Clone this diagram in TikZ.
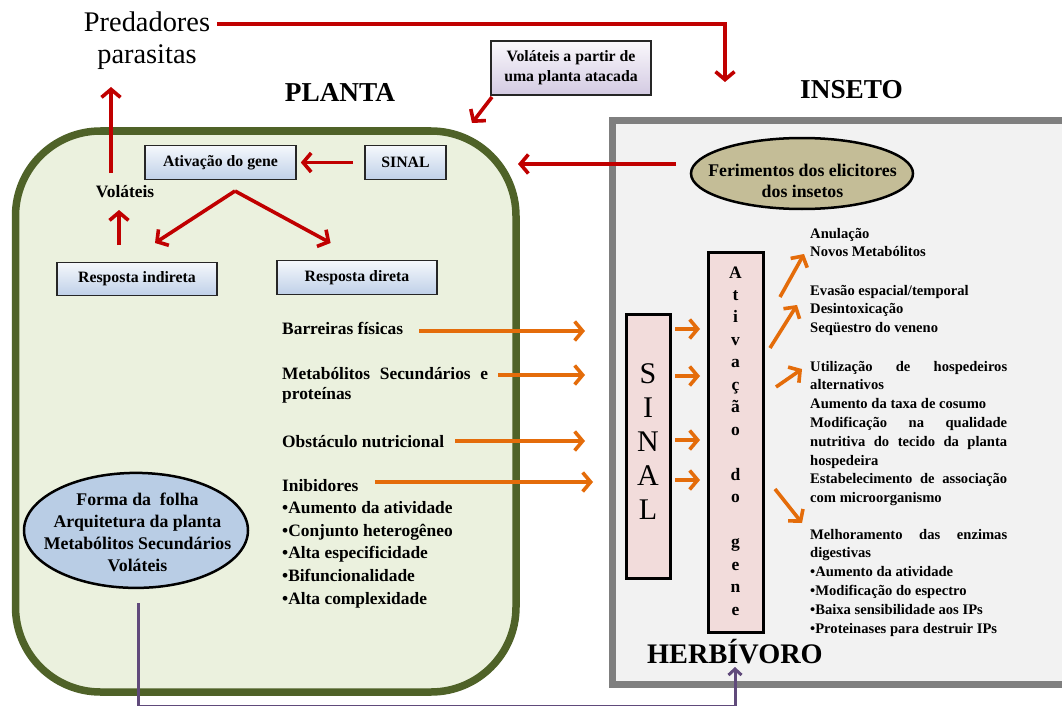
\documentclass[tikz,border=0pt]{standalone}
\usepackage{fontspec}
\setmainfont{Liberation Serif}
\usetikzlibrary{arrows.meta,shapes.geometric}
\definecolor{cred}{HTML}{C00000}
\definecolor{corange}{HTML}{E46C0A}
\definecolor{cgreen}{HTML}{4F6228}
\definecolor{cplant}{HTML}{EBF1DE}
\definecolor{cgray}{HTML}{7F7F7F}
\definecolor{cins}{HTML}{F2F2F2}
\definecolor{cpink}{HTML}{F2DCDB}
\definecolor{ctan}{HTML}{C4BD97}
\definecolor{cblue}{HTML}{B9CDE5}
\definecolor{cpurple}{HTML}{604A7B}
\definecolor{bevtop}{HTML}{F5F8FC}
\definecolor{bevbot}{HTML}{BFD0E8}
\definecolor{lavtop}{HTML}{FAF8FC}
\definecolor{lavbot}{HTML}{D3CAE2}
\newcommand\J[1]{\makebox[\linewidth][s]{#1}}
\tikzset{
  redarr/.style={draw=cred, line width=3.6pt, -{Straight Barb[length=8pt,width=19pt]}},
  orarr/.style={draw=corange, line width=3.6pt, -{Straight Barb[length=8pt,width=19pt]}},
  purarr/.style={draw=cpurple, line width=3pt, -{Straight Barb[length=6pt,width=13pt]}},
  bevelbox/.style={rectangle, draw=black!85, line width=1.6pt, top color=bevtop, bottom color=bevbot, inner sep=0pt, font=\fontsize{15.8}{19}\selectfont\bfseries},
  lavbox/.style={rectangle, draw=black!85, line width=1.6pt, top color=lavtop, bottom color=lavbot, inner sep=0pt, align=center, font=\fontsize{15.8}{20}\selectfont\bfseries},
  pinkbox/.style={rectangle, draw=black, line width=3pt, fill=cpink, inner sep=0pt},
  ttl/.style={anchor=base, inner sep=0pt, font=\fontsize{27.3}{30}\selectfont\bfseries},
  ltxt/.style={anchor=base west, inner sep=0pt, font=\fontsize{17.4}{22.6}\selectfont\bfseries},
  rtxt/.style={anchor=base west, inner sep=0pt, font=\fontsize{14.6}{18.8}\selectfont\bfseries},
}
\begin{document}
\begin{tikzpicture}[x=1pt,y=-1pt]
\useasboundingbox (0,0) rectangle (1062,706);
% containers
\node[rectangle, draw=cgray, fill=cins, line width=7pt, minimum width=470pt, minimum height=563pt, inner sep=0pt] (insbox) at (847,402.5) {};
\node[rectangle, draw=cgreen, fill=cplant, line width=7.5pt, rounded corners=85pt, minimum width=500.5pt, minimum height=561pt, inner sep=0pt] (plantbox) at (265.75,411.5) {};
% titles
\node[anchor=base, inner sep=0pt, font=\fontsize{28.4}{31.6}\selectfont] (pred) at (147,31.7) {\parbox[t]{160pt}{\centering Predadores\\parasitas}};
\node[ttl] (planta) at (340,102) {PLANTA};
\node[ttl] (inseto) at (851.5,99) {INSETO};
\node[anchor=base west, inner sep=0pt, font=\fontsize{28.3}{30}\selectfont\bfseries] (herb) at (647,663) {HERBÍVORO};
% boxes
\node[lavbox, minimum width=160pt, minimum height=54pt] (volbox) at (571,68) {Voláteis a partir de\\uma planta atacada};
\node[bevelbox, minimum width=151pt, minimum height=34pt] (genebox) at (220.5,162.5) {Ativação do gene};
\node[bevelbox, minimum width=81pt, minimum height=34pt] (sinalbox) at (405.5,162.5) {SINAL};
\node[bevelbox, minimum width=160pt, minimum height=33pt] (indir) at (137,279) {Resposta indireta};
\node[bevelbox, minimum width=160pt, minimum height=34pt] (direta) at (357,277.5) {Resposta direta};
\node[anchor=base, inner sep=0pt, font=\fontsize{17.4}{20}\selectfont\bfseries] (volat) at (125,197) {Voláteis};
% ellipses
\node[ellipse, draw=black, line width=2.5pt, fill=ctan, minimum width=222pt, minimum height=71pt, inner sep=0pt] (ferim) at (802,173.5) {};
\node[anchor=base, inner sep=0pt, font=\fontsize{17.8}{21}\selectfont\bfseries] (fertxt) at (802.5,176) {\parbox[t]{220pt}{\centering Ferimentos dos elicitores\\dos insetos}};
\node[ellipse, draw=black, line width=2.5pt, fill=cblue, minimum width=224pt, minimum height=115pt, inner sep=0pt] (forma) at (136,530.4) {};
\node[anchor=base, inner sep=0pt, font=\fontsize{17.8}{22.2}\selectfont\bfseries] (formatxt) at (137.5,505) {\parbox[t]{220pt}{\centering Forma da\ \ folha\\Arquitetura da planta\\Metabólitos Secundários\\Voláteis}};
% plant texts
\node[ltxt] (barr) at (282,334) {Barreiras físicas};
\node[ltxt, font=\fontsize{17.4}{20.3}\selectfont\bfseries] (meta) at (282,379) {\parbox[t]{206pt}{\J{Metabólitos Secundários e}\\proteínas}};
\node[ltxt] (obst) at (282,447) {Obstáculo nutricional};
\node[ltxt] (inib) at (282,491) {\parbox[t]{200pt}{Inibidores\\•Aumento da atividade\\•Conjunto heterogêneo\\•Alta especificidade\\•Bifuncionalidade\\•Alta complexidade}};
% insect tall boxes
\node[pinkbox, minimum width=44pt, minimum height=264pt] (sinal2) at (648,446) {};
\node[anchor=base, inner sep=0pt, font=\fontsize{30}{34}\selectfont] (sinal2txt) at (648,383) {\parbox[t]{40pt}{\centering S\\I\\N\\A\\L}};
\node[pinkbox, minimum width=55pt, minimum height=380pt] (gene2) at (735.5,442) {};
\node[anchor=base, inner sep=0pt, font=\fontsize{17.5}{22.47}\selectfont\bfseries] (gene2txt) at (735.5,278) {\parbox[t]{40pt}{\centering A\\t\\i\\v\\a\\ç\\ã\\o\\\mbox{}\\d\\o\\\mbox{}\\g\\e\\n\\e}};
% insect texts
\node[rtxt] (r1) at (810,238) {\parbox[t]{197pt}{Anulação\\Novos Metabólitos}};
\node[rtxt] (r2) at (810,295) {\parbox[t]{197pt}{Evasão espacial/temporal\\Desintoxicação\\Seqüestro do veneno}};
\node[rtxt] (r3) at (810,371) {\parbox[t]{197pt}{\J{Utilização de hospedeiros}\\alternativos\\Aumento da taxa de cosumo\\\J{Modificação na qualidade}\\\J{nutritiva do tecido da planta}\\hospedeira\\\J{Estabelecimento de associação}\\com microorganismo}};
\node[rtxt] (r4) at (810,539) {\parbox[t]{197pt}{\J{Melhoramento das enzimas}\\digestivas\\•Aumento da atividade\\•Modificação do espectro\\•Baixa sensibilidade aos IPs\\•Proteinases para destruir IPs}};
% coordinates for connector ends
\coordinate (predout) at (217,24);
\coordinate (predcorner) at (725,24);
\coordinate (insin) at (725,82);
\coordinate (volup) at (111,173);
\coordinate (predin) at (111,87);
\coordinate (volboxout) at (492,97);
\coordinate (plantin) at (472,123);
\coordinate (ferout) at (676,164);
\coordinate (plantin2) at (518,164);
\coordinate (apex) at (235,191);
\coordinate (indirin) at (155,243);
\coordinate (diretain) at (330.6,243);
\coordinate (indirout) at (119,245);
\coordinate (volin) at (119,210);
\coordinate (a1s) at (419,331); \coordinate (a1e) at (585,331);
\coordinate (a2s) at (498,375); \coordinate (a2e) at (585,375);
\coordinate (a3s) at (455,441); \coordinate (a3e) at (585,441);
\coordinate (a4s) at (375,482); \coordinate (a4e) at (593,482);
\coordinate (s1s) at (675,329); \coordinate (s1e) at (700,329);
\coordinate (s2s) at (675,376); \coordinate (s2e) at (700,376);
\coordinate (s3s) at (675,440); \coordinate (s3e) at (700,440);
\coordinate (s4s) at (675,480); \coordinate (s4e) at (700,480);
\coordinate (o1s) at (780,297); \coordinate (o1e) at (804,254);
\coordinate (o2s) at (770,348); \coordinate (o2e) at (797,305);
\coordinate (o3s) at (776,387); \coordinate (o3e) at (802,369);
\coordinate (o4s) at (775,489); \coordinate (o4e) at (802,523);
\coordinate (purs) at (138,603);
\coordinate (purc1) at (138,706.3);
\coordinate (purc2) at (735,706.3);
\coordinate (herbin) at (735,667);
% red connectors
\draw[redarr] (predout) -- (predcorner) -- (insin);
\draw[redarr] (volup) -- (predin);
\draw[redarr] (volboxout) -- (plantin);
\draw[redarr, shorten <=11pt, shorten >=4pt] (sinalbox.west) -- (genebox.east);
\draw[redarr] (ferout) -- (plantin2);
\draw[redarr] (apex) -- (indirin);
\draw[redarr] (apex) -- (diretain);
\draw[redarr] (indirout) -- (volin);
% orange connectors
\foreach \a in {a1,a2,a3,a4,s1,s2,s3,s4,o1,o2,o3,o4}{
  \draw[orarr] (\a s) -- (\a e);
}
% purple connector
\draw[purarr] (purs) -- (purc1) -- (purc2) -- (herbin);
\end{tikzpicture}
\end{document}
